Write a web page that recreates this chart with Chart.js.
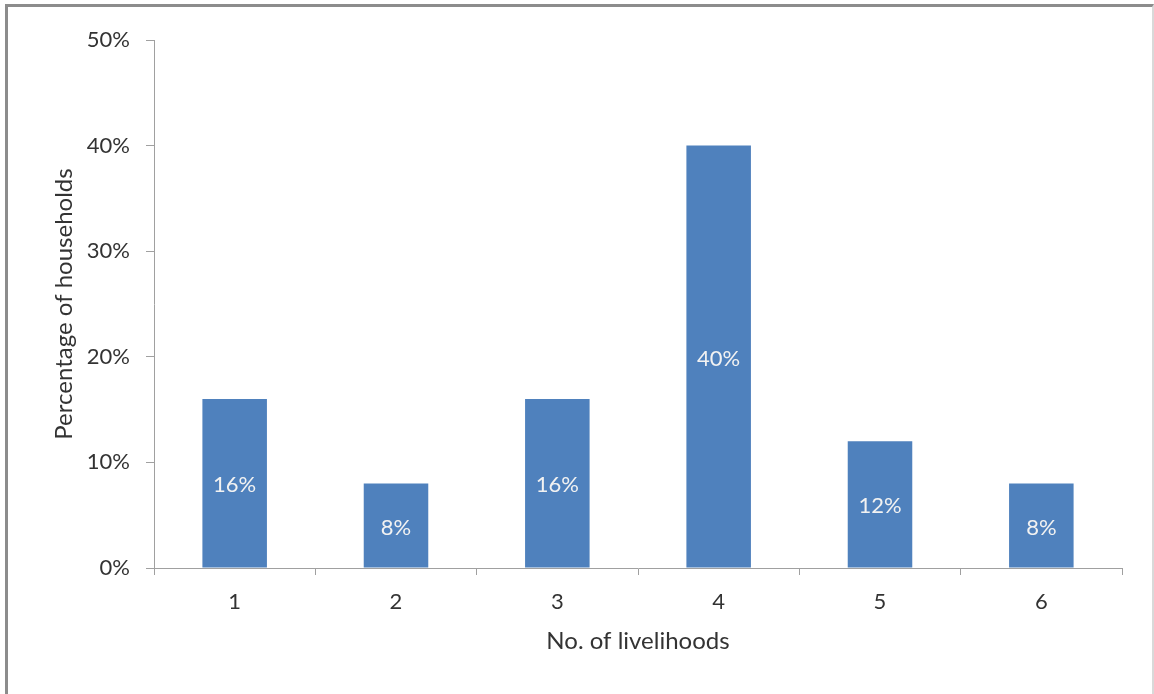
<!DOCTYPE html>
<html>
<head>
<meta charset="utf-8">
<script src="https://cdn.jsdelivr.net/npm/chart.js@4"></script>
<style>
  html, body { margin: 0; padding: 0; background: #fff; }
  #wrap { position: relative; width: 1154px; height: 694px; }
  #frame {
    position: absolute; left: 5px; top: 4px; right: 0; bottom: -5px;
    border-top: 3px solid #8c8c8c; border-left: 3px solid #8c8c8c; border-right: 2px solid #d9d9d9;
    pointer-events: none;
  }
  canvas { position: absolute; left: 0; top: 0; }
</style>
</head>
<body>
<div id="wrap">
  <canvas id="chart" width="1154" height="694"></canvas>
  <div id="frame"></div>
</div>
<script>
const livelihoods = ["1", "2", "3", "4", "5", "6"];
const households = [16, 8, 16, 40, 12, 8];
const yTicks = [0, 10, 20, 30, 40, 50];

const FONT = "Lato";
const TEXT = "#333333";
const AXIS = "#a0a0a0";

/* labels inside the bars */
const barLabels = {
    id: "barLabels",
    afterDatasetsDraw(chart) {
        const ctx = chart.ctx;
        const meta = chart.getDatasetMeta(0);
        ctx.save();
        ctx.fillStyle = "#f2f2f2";
        ctx.font = "22px " + FONT;
        ctx.textAlign = "center";
        ctx.textBaseline = "middle";
        meta.data.forEach((bar, i) => {
            const mid = (bar.y + bar.base) / 2;
            ctx.fillText(households[i] + "%", bar.x, mid + 2);
        });
        ctx.restore();
    }
};

new Chart(document.getElementById("chart"), {
    type: "bar",
    data: {
        labels: livelihoods,
        datasets: [{
            data: households,
            backgroundColor: "#4f81bd",
            barPercentage: 0.4,
            categoryPercentage: 1
        }]
    },
    options: {
        responsive: false,
        animation: false,
        layout: { padding: { left: 0, top: 40, right: 32, bottom: 0 } },
        plugins: { legend: { display: false }, tooltip: { enabled: false } },
        scales: {
            x: {
                grid: { offset: true, drawOnChartArea: false, tickLength: 7, color: AXIS },
                border: { color: AXIS, width: 1 },
                ticks: { color: TEXT, font: { family: FONT, size: 22 }, padding: 14 },
                title: { display: true, text: "No. of livelihoods", color: TEXT,
                         font: { family: FONT, size: 24 }, padding: { top: 0, bottom: 38 } },
                afterFit(scale) { scale.height = 126; }
            },
            y: {
                min: 0, max: 50,
                afterBuildTicks(scale) { scale.ticks = yTicks.map(v => ({ value: v })); },
                grid: { drawOnChartArea: false, tickLength: 8, color: AXIS },
                border: { color: AXIS, width: 1 },
                ticks: { color: TEXT, font: { family: FONT, size: 22 }, padding: 16,
                         callback: v => v + "%" },
                title: { display: true, text: "Percentage of households", color: TEXT,
                         font: { family: FONT, size: 24 }, padding: { top: 50, bottom: 0 } },
                afterFit(scale) { scale.width = 154; }
            }
        }
    },
    plugins: [barLabels]
});
</script>
</body>
</html>
